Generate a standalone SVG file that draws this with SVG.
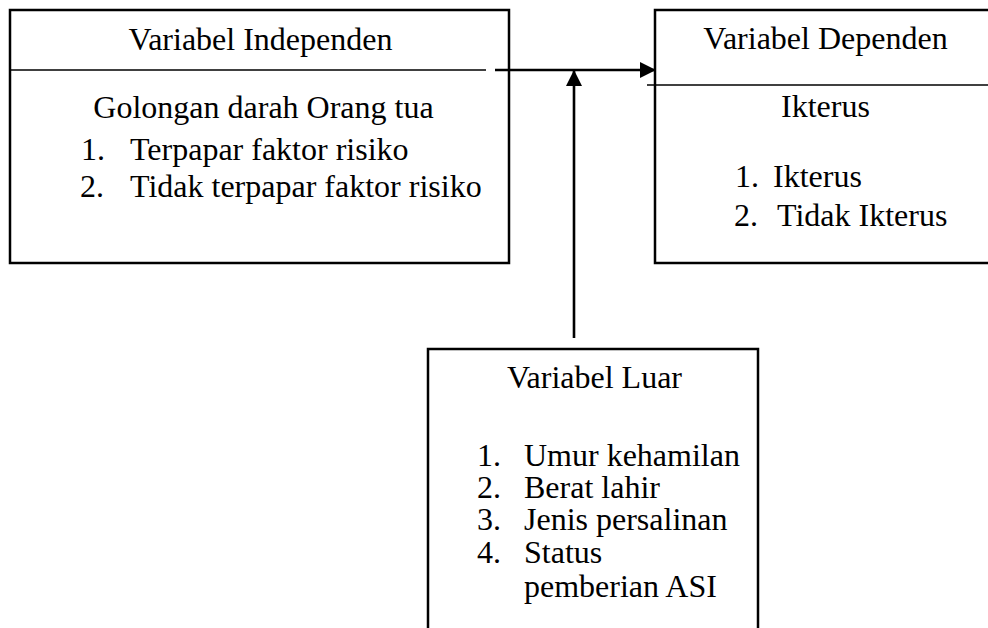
<svg xmlns="http://www.w3.org/2000/svg" width="988" height="628" viewBox="0 0 988 628">
<style>
.box{fill:#fff;stroke:#000;stroke-width:2.5}
.div{stroke:#000;stroke-width:1.3;fill:none}
.conn{stroke:#000;stroke-width:2.6;fill:none}
text{font-family:"Liberation Serif","Times New Roman",serif;font-size:32px;fill:#000}
.c{text-anchor:middle}
</style>
<defs>
<marker id="ah" markerWidth="16" markerHeight="16" refX="15" refY="8" orient="auto" markerUnits="userSpaceOnUse">
<path d="M0,0 L16,8 L0,16 Z" fill="#000"/>
</marker>
</defs>
<rect width="988" height="628" fill="#fff"/>
<g id="independen">
<rect class="box" x="10" y="10" width="499" height="253"/>
<line class="div" x1="10" y1="70" x2="486" y2="70"/>
<text class="c" x="260.5" y="50">Variabel Independen</text>
<text class="c" x="263.5" y="118">Golongan darah Orang tua</text>
<text x="81" y="160">1.</text><text x="130" y="160">Terpapar faktor risiko</text>
<text x="80" y="197">2.</text><text x="130" y="197">Tidak terpapar faktor risiko</text>
</g>
<g id="dependen">
<rect class="box" x="655" y="10" width="345" height="253"/>
<line class="div" x1="647" y1="85" x2="988" y2="85"/>
<text class="c" x="825.5" y="49">Variabel Dependen</text>
<text class="c" x="825.5" y="117">Ikterus</text>
<text x="735" y="187">1.</text><text x="773" y="187">Ikterus</text>
<text x="734" y="226">2.</text><text x="777" y="226">Tidak Ikterus</text>
</g>
<g id="luar">
<rect class="box" x="428" y="349" width="330" height="300" stroke-width="2"/>
<text class="c" x="594.5" y="388">Variabel Luar</text>
<text x="477" y="466">1.</text><text x="524" y="466">Umur kehamilan</text>
<text x="477" y="498">2.</text><text x="524" y="498">Berat lahir</text>
<text x="477" y="530">3.</text><text x="524" y="530">Jenis persalinan</text>
<text x="477" y="563">4.</text><text x="524" y="563">Status</text>
<text x="524" y="597">pemberian ASI</text>
</g>
<g id="connectors">
<line class="conn" x1="495" y1="70" x2="655" y2="70" marker-end="url(#ah)"/>
<line class="conn" x1="574" y1="338" x2="574" y2="71" marker-end="url(#ah)"/>
</g>
</svg>
